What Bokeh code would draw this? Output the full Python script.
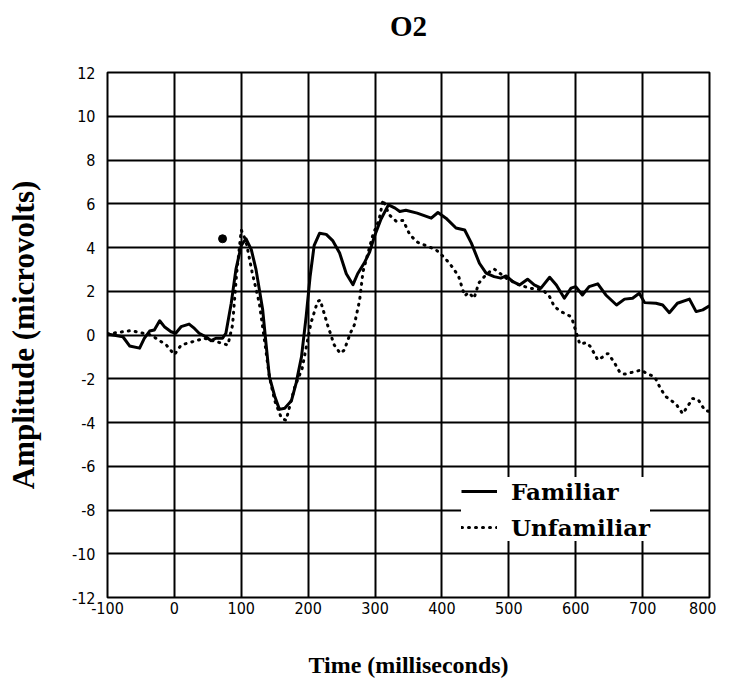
from bokeh.plotting import figure
from bokeh.models import Legend, LegendItem, FixedTicker, Range1d, Title
from bokeh.embed import file_html
from bokeh.resources import INLINE

# ---- data ----
fam_t = [-100, -77, -67, -52, -45, -37, -30, -22, -15, -5, 2, 10, 22, 30, 37, 47, 55, 62, 72, 77,
         85, 92, 100, 107, 115, 122, 132, 137, 142, 150, 157, 165, 175, 182, 190, 197, 203, 209,
         217, 227, 237, 247, 257, 267, 274, 284, 292, 299, 309, 320, 330, 337, 346, 363, 384, 394,
         406, 421, 434, 444, 456, 466, 478, 488, 496, 506, 516, 528, 538, 548, 561, 571, 583, 593,
         600, 610, 620, 633, 645, 661, 673, 685, 695, 703, 720, 730, 740, 752, 770, 780, 790, 800]
fam_v = [0.05, -0.08, -0.5, -0.6, -0.15, 0.18, 0.23, 0.65, 0.38, 0.15, 0.08, 0.38, 0.5, 0.3, 0.08,
         -0.08, -0.26, -0.15, -0.15, 0.08, 1.45, 3.0, 4.1, 4.4, 3.9, 3.0, 1.15, -0.4, -1.9, -2.8,
         -3.4, -3.35, -3.0, -2.2, -1.0, 0.85, 2.7, 4.1, 4.65, 4.6, 4.3, 3.75, 2.8, 2.3, 2.8, 3.3,
         3.8, 4.5, 5.3, 5.95, 5.8, 5.65, 5.7, 5.57, 5.34, 5.6, 5.34, 4.89, 4.8, 4.2, 3.28, 2.83,
         2.67, 2.6, 2.7, 2.44, 2.29, 2.55, 2.29, 2.14, 2.64, 2.29, 1.68, 2.14, 2.21, 1.83, 2.21,
         2.34, 1.83, 1.37, 1.64, 1.68, 1.91, 1.48, 1.45, 1.37, 1.02, 1.45, 1.64, 1.07, 1.15, 1.33]

unf_t = [-100, -65, -35, -12, 0, 10, 45, 80, 87, 93, 100, 107, 116, 127, 135, 142, 150, 160, 167,
         180, 191, 204, 214, 218, 229, 239, 248, 254, 263, 269, 277, 282, 297, 306, 312, 321, 332,
         342, 352, 364, 379, 391, 405, 417, 425, 434, 440, 448, 455, 467, 478, 496, 515, 531, 551,
         561, 568, 578, 591, 595, 606, 616, 622, 633, 641, 648, 657, 666, 673, 688, 698, 706, 718,
         726, 734, 743, 750, 760, 775, 783, 793, 800]
unf_v = [0.05, 0.2, 0.0, -0.46, -0.9, -0.46, -0.15, -0.46, 0.46, 2.8, 4.8, 4.3, 2.9, 1.45, -0.3,
         -1.9, -3.0, -3.8, -3.9, -2.37, -1.53, 0.53, 1.53, 1.6, 0.46, -0.46, -0.84, -0.69, 0.08,
         0.46, 1.6, 2.9, 4.6, 5.27, 6.18, 5.5, 5.19, 5.24, 4.58, 4.23, 4.05, 3.9, 3.5, 3.05, 2.67,
         1.79, 1.94, 1.68, 2.37, 2.8, 3.02, 2.6, 2.3, 2.14, 2.06, 1.75, 1.3, 1.07, 0.87, 0.69,
         -0.41, -0.35, -0.53, -1.14, -0.99, -0.84, -1.22, -1.71, -1.79, -1.68, -1.6, -1.76, -1.91,
         -2.4, -2.8, -3.0, -3.16, -3.6, -2.9, -2.95, -3.44, -3.5]

marker_t = [72]
marker_v = [4.4]

x_ticks = [-100, 0, 100, 200, 300, 400, 500, 600, 700, 800]
y_ticks = [-12, -10, -8, -6, -4, -2, 0, 2, 4, 6, 8, 10, 12]

p = figure(width=716, height=680, output_backend="svg", toolbar_location=None,
           x_range=Range1d(-100, 800), y_range=Range1d(-12, 12),
           min_border_left=107, min_border_right=7, min_border_top=72, min_border_bottom=80,
           title="O2")

p.title.align = "center"
p.title.vertical_align = "top"
p.title.text_font = "Liberation Serif"
p.title.text_font_style = "bold"
p.title.text_font_size = "29px"
p.title.text_color = "black"
p.title.standoff = 18

# empty spacer between the title and the plot frame
p.add_layout(Title(text=" ", text_font_size="10px", standoff=7), "above")

p.outline_line_color = "black"
p.outline_line_width = 2

for ax in (p.xaxis[0], p.yaxis[0]):
    ax.axis_line_color = None
    ax.major_tick_line_color = None
    ax.minor_tick_line_color = None
    ax.major_tick_in = 0
    ax.major_tick_out = 0
    ax.minor_tick_in = 0
    ax.minor_tick_out = 0
    ax.major_label_text_font = "DejaVu Sans Condensed"
    ax.major_label_text_font_size = "16px"
    ax.major_label_text_color = "black"
    ax.axis_label_text_font = "Liberation Serif"
    ax.axis_label_text_font_style = "bold"
    ax.axis_label_text_color = "black"

p.xaxis.ticker = FixedTicker(ticks=x_ticks)
p.yaxis.ticker = FixedTicker(ticks=y_ticks)
p.xaxis.major_label_overrides = {t: str(t) for t in x_ticks}
p.yaxis.major_label_overrides = {t: str(t) for t in y_ticks}
p.xaxis.axis_label = "Time (milliseconds)"
p.yaxis.axis_label = "Amplitude (microvolts)"
p.xaxis.axis_label_text_font_size = "24px"
p.yaxis.axis_label_text_font_size = "31px"
p.xaxis.major_label_standoff = 4
p.yaxis.major_label_standoff = 12
p.xaxis.axis_label_standoff = 35
p.yaxis.axis_label_standoff = 28

p.xgrid.grid_line_color = "black"
p.ygrid.grid_line_color = "black"
p.xgrid.grid_line_width = 2
p.ygrid.grid_line_width = 2
p.xgrid.grid_line_alpha = 1
p.ygrid.grid_line_alpha = 1

r_fam = p.line(fam_t, fam_v, line_color="black", line_width=3, line_join="round")
r_unf = p.line(unf_t, unf_v, line_color="black", line_width=3, line_dash="1 6",
               line_cap="round")
p.scatter(marker_t, marker_v, size=8, color="black")

legend = Legend(items=[LegendItem(label="Familiar", renderers=[r_fam]),
                       LegendItem(label="Unfamiliar", renderers=[r_unf])],
                location=(354, 56))
legend.label_text_font = "DejaVu Serif"
legend.label_text_font_style = "bold"
legend.label_text_font_size = "23px"
legend.label_text_color = "black"
legend.border_line_color = None
legend.background_fill_color = "white"
legend.background_fill_alpha = 1
legend.padding = 12
legend.margin = 0
legend.spacing = 8
legend.glyph_width = 36
legend.glyph_height = 28
legend.label_height = 28
legend.label_standoff = 14
p.add_layout(legend, "center")

open("out.html", "w").write(file_html(p, INLINE))
